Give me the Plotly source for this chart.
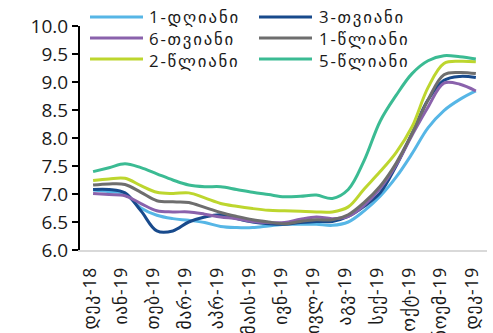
import numpy as np
import plotly.graph_objects as go

# Month labels (Dec-2018 .. Dec-2019)
month_labels = ["დეკ-18", "იან-19", "თებ-19", "მარ-19", "აპრ-19", "მაის-19", "ივნ-19",
                "ივლ-19", "აგვ-19", "სექ-19", "ოქტ-19", "ნოემ-19", "დეკ-19"]

# Semi-monthly observation positions (in months from Dec-2018)
obs_pos = np.arange(25) / 2.0

series_names = ["1-დღიანი", "3-თვიანი", "6-თვიანი", "1-წლიანი", "2-წლიანი", "5-წლიანი"]
series_colors = ["#56b6e6", "#184a8c", "#8a62ac", "#6e6e6e", "#bdd62e", "#3bbb93"]

overnight = [7.07, 7.04, 7.00, 6.75, 6.62, 6.56, 6.53, 6.49, 6.42, 6.40, 6.40, 6.43, 6.46,
             6.46, 6.46, 6.44, 6.50, 6.70, 6.96, 7.30, 7.72, 8.18, 8.49, 8.69, 8.84]
m3 = [7.08, 7.08, 7.02, 6.70, 6.34, 6.34, 6.50, 6.59, 6.63, 6.56, 6.50, 6.47, 6.46,
      6.49, 6.51, 6.51, 6.60, 6.78, 7.02, 7.50, 8.08, 8.68, 9.03, 9.10, 9.08]
m6 = [7.01, 6.99, 6.97, 6.83, 6.70, 6.68, 6.68, 6.64, 6.59, 6.56, 6.51, 6.49, 6.49,
      6.55, 6.59, 6.56, 6.60, 6.80, 7.10, 7.52, 8.05, 8.55, 8.98, 8.96, 8.84]
y1 = [7.16, 7.18, 7.17, 7.03, 6.88, 6.86, 6.85, 6.76, 6.67, 6.60, 6.54, 6.50, 6.47,
      6.51, 6.54, 6.54, 6.63, 6.85, 7.14, 7.55, 8.08, 8.68, 9.13, 9.17, 9.15]
y2 = [7.24, 7.27, 7.28, 7.15, 7.03, 7.01, 7.02, 6.93, 6.83, 6.78, 6.74, 6.71, 6.70,
      6.69, 6.68, 6.68, 6.77, 7.09, 7.40, 7.74, 8.20, 8.90, 9.33, 9.37, 9.36]
y5 = [7.40, 7.47, 7.54, 7.47, 7.36, 7.25, 7.16, 7.13, 7.13, 7.08, 7.03, 6.99, 6.95,
      6.96, 6.98, 6.92, 7.08, 7.60, 8.30, 8.76, 9.15, 9.38, 9.47, 9.45, 9.41]
series_values = [overnight, m3, m6, y1, y2, y5]

y_ticks = [6.0, 6.5, 7.0, 7.5, 8.0, 8.5, 9.0, 9.5, 10.0]

W, H = 493, 333
ML, MR, MT, MB = 80, 6, 26, 83
FONT = "Open Sans, DejaVu Sans, sans-serif"


def spaced(text, px):
    return f'<span style="letter-spacing:{px}px">{text}</span>'


fig = go.Figure()
for name, color, vals in zip(series_names, series_colors, series_values):
    fig.add_trace(go.Scatter(
        x=obs_pos + 0.1, y=vals, name=name, mode="lines",
        line=dict(color=color, width=3, shape="spline", smoothing=1.0),
        showlegend=False, hoverinfo="skip"))

# Two-column legend drawn above the plot area
pw, ph = W - ML - MR, H - MT - MB
def px_x(p):
    return (p - ML) / pw
def px_y(p):
    return (H - MB - p) / ph

col_line = [(90, 143), (259, 312)]
col_text = [147, 317]
row_y = [17, 38, 59]
for i, (name, color) in enumerate(zip(series_names, series_colors)):
    r, c = divmod(i, 2)
    x0, x1 = col_line[c]
    fig.add_shape(type="line", xref="paper", yref="paper",
                  x0=px_x(x0), x1=px_x(x1), y0=px_y(row_y[r]), y1=px_y(row_y[r]),
                  line=dict(color=color, width=3))

for c in range(2):
    names = series_names[c::2]
    fig.add_annotation(xref="paper", yref="paper", x=px_x(col_text[c]), y=px_y(row_y[1]),
                       text="<br>".join(spaced(n, 1.8) for n in names),
                       showarrow=False, xanchor="left", yanchor="middle", align="left",
                       font=dict(family=FONT, size=16.8, color="#1a1a1a"))

fig.update_layout(
    width=W, height=H,
    margin=dict(l=ML, r=MR, t=MT, b=MB),
    paper_bgcolor="white", plot_bgcolor="white",
    font=dict(family=FONT, size=18, color="#1a1a1a"),
    xaxis=dict(range=[-0.31, 12.45], tickvals=list(range(len(month_labels))),
               ticktext=[spaced(m, 0.8) for m in month_labels], tickangle=-90,
               showgrid=False, zeroline=False, automargin=False,
               showline=True, linecolor="#d9d9d9", linewidth=2, ticks="",
               ticklabelstandoff=8, tickfont=dict(size=17.5)),
    yaxis=dict(range=[6, 10], tickvals=y_ticks, ticktext=[f"{v:.1f}" for v in y_ticks],
               showgrid=False, zeroline=False, showline=True, linecolor="black",
               automargin=False,
               linewidth=2, ticks="outside", ticklen=6, tickwidth=2, tickcolor="black",
               tickfont=dict(size=19)),
)

fig.write_html("out.html")
